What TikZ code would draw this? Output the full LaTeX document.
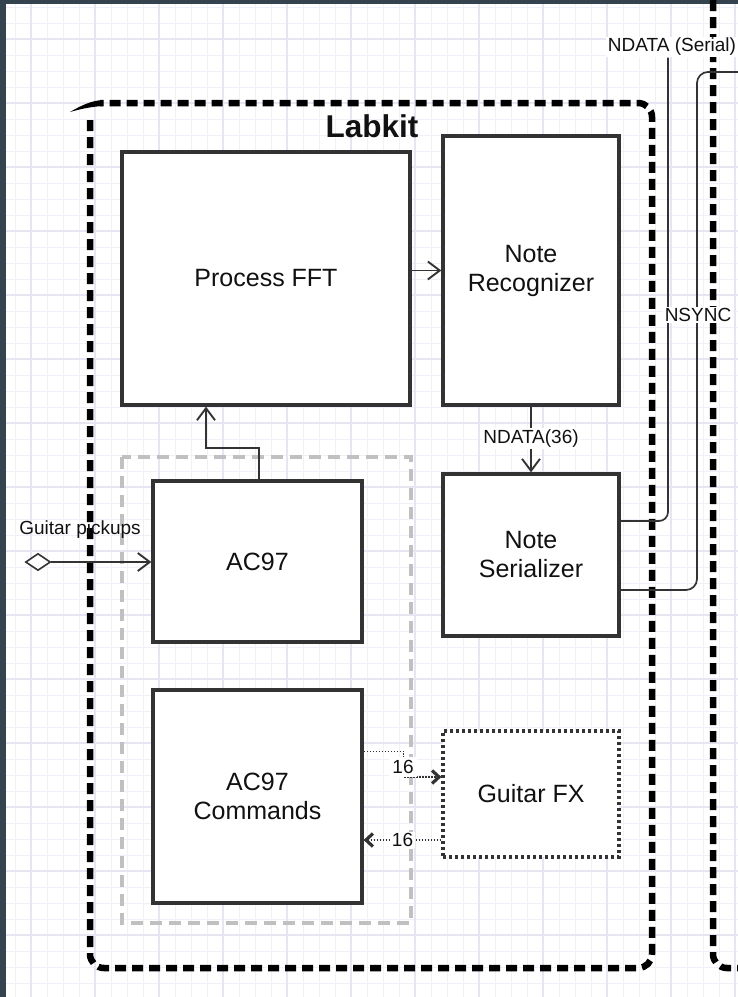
\documentclass[tikz,border=0pt]{standalone}
\usepackage{fontspec}
\setmainfont{Liberation Sans}
\usetikzlibrary{arrows.meta,shapes.geometric}
\definecolor{frame}{HTML}{34444F}
\definecolor{gridc}{HTML}{F0F0F8}
\definecolor{gridm}{HTML}{E6E6F2}
\definecolor{boxc}{HTML}{333333}
\definecolor{txt}{HTML}{111111}
\definecolor{grayd}{HTML}{C0C0C0}
\tikzset{
  blk/.style={draw=boxc, line width=3.2pt, fill=white, font=\fontsize{25}{29}\selectfont, text=txt, align=center},
  labkitline/.style={draw=black, line width=6.5pt, dash pattern=on 11pt off 6pt},
  grayline/.style={draw=grayd, line width=3.2pt, dash pattern=on 12pt off 7pt},
  dotbox/.style={draw=boxc, line width=3.2pt, dash pattern=on 3pt off 3pt, fill=white, font=\fontsize{25}{29}\selectfont, text=txt},
  arr/.style={draw=boxc, line width=1.9pt, -{Straight Barb[length=12pt,width=18pt,line width=1.9pt]}},
  dotarr/.style={draw=boxc, line width=1.5pt, dash pattern=on 1.5pt off 1.5pt, -{Straight Barb[length=7pt,width=13pt,line width=3.2pt]}},
  sig/.style={draw=boxc, line width=1.7pt},
  lbl/.style={font=\fontsize{19}{22}\selectfont, text=txt, fill=white, inner sep=1.5pt},
}
\begin{document}
\begin{tikzpicture}[x=1pt,y=-1pt]
\useasboundingbox (0,0) rectangle (738,997);
\clip (0,0) rectangle (738,997);
% background and grid
\fill[white] (0,0) rectangle (738,997);
\foreach \gx in {15,31,...,738} {\draw[gridc, line width=0.9pt] (\gx,0) -- (\gx,997);}
\foreach \gy in {7,23,...,997} {\draw[gridc, line width=0.9pt] (0,\gy) -- (738,\gy);}
\foreach \gx in {31,95,...,738} {\draw[gridm, line width=1.1pt] (\gx,0) -- (\gx,997);}
\foreach \gy in {39,103,...,997} {\draw[gridm, line width=1.1pt] (0,\gy) -- (738,\gy);}
\fill[frame] (0,0) rectangle (5.5,997);
\fill[frame] (0,0) rectangle (738,4);

% Labkit container
\draw[labkitline, rounded corners=14pt] (90,120) -- (90,968) -- (652,968) -- (652,103) -- (100,103);
\fill[black] (70,112) .. controls (82,105) and (92,100.5) .. (103,100) -- (103,106) .. controls (94,106.5) and (84,108) .. (70,112) -- cycle;
\node[font=\bfseries\fontsize{31.5}{36}\selectfont, text=txt] (labkit) at (372,126) {Labkit};

% right container
\draw[labkitline, rounded corners=14pt] (713,0) -- (713,968) -- (760,968);

% gray grouping
\draw[grayline] (122,457) rectangle (411,923);

% blocks
\node[blk, minimum width=288pt, minimum height=253pt] (fft) at (266,278.5) {Process FFT};
\node[blk, minimum width=176pt, minimum height=269pt] (nr) at (531,270.5) {Note\\Recognizer};
\node[blk, minimum width=176pt, minimum height=162pt] (ns) at (531,555) {Note\\Serializer};
\node[blk, minimum width=209pt, minimum height=161pt] (ac) at (257.5,561.5) {AC97};
\node[blk, minimum width=209pt, minimum height=213pt] (cmd) at (257.5,796.5) {AC97\\Commands};
\node[dotbox, minimum width=176pt, minimum height=126pt] (gfx) at (531,794) {Guitar FX};

% connectors
\draw[arr] (fft.east |- nr.west) -- (nr.west);
\draw[arr] ([xshift=1.5pt]ac.north) -- ++(0,-31) -| ([xshift=-60pt]fft.south);
\draw[arr] (nr.south) -- node[lbl, pos=0.48] {NDATA(36)} (ns.north);

% guitar pickups
\node[diamond, draw=boxc, line width=1.6pt, fill=white, minimum width=25pt, minimum height=17pt, inner sep=0pt] (gp) at (38,562) {};
\node[font=\fontsize{19}{22}\selectfont, text=txt] (gpl) at (80,530) {Guitar pickups};
\draw[arr] (gp.east) -- (ac.west |- gp.east);

% Guitar FX links
\draw[dotarr] ([yshift=-63pt]cmd.north east) -- ++(40,0) |- ([yshift=17pt]gfx.west);
\node[lbl, inner sep=3pt] (l16a) at (403,767) {16};
\draw[dotarr] ([yshift=-46pt]gfx.west) -- node[lbl, pos=0.5] {16} (cmd.east |- 0,840);

% outgoing signals
\node[lbl] (nds) at (672,47) {NDATA (Serial)};
\draw[sig, rounded corners=9pt] ([yshift=34pt]ns.east) -| ([xshift=-4pt]nds.south);
\coordinate (edge) at (745,72);
\draw[sig, rounded corners=11pt] ([yshift=-35pt]ns.east) -| (697,72) -- (edge);
\node[lbl] (nsync) at (698,315) {NSYNC};
\end{tikzpicture}
\end{document}
